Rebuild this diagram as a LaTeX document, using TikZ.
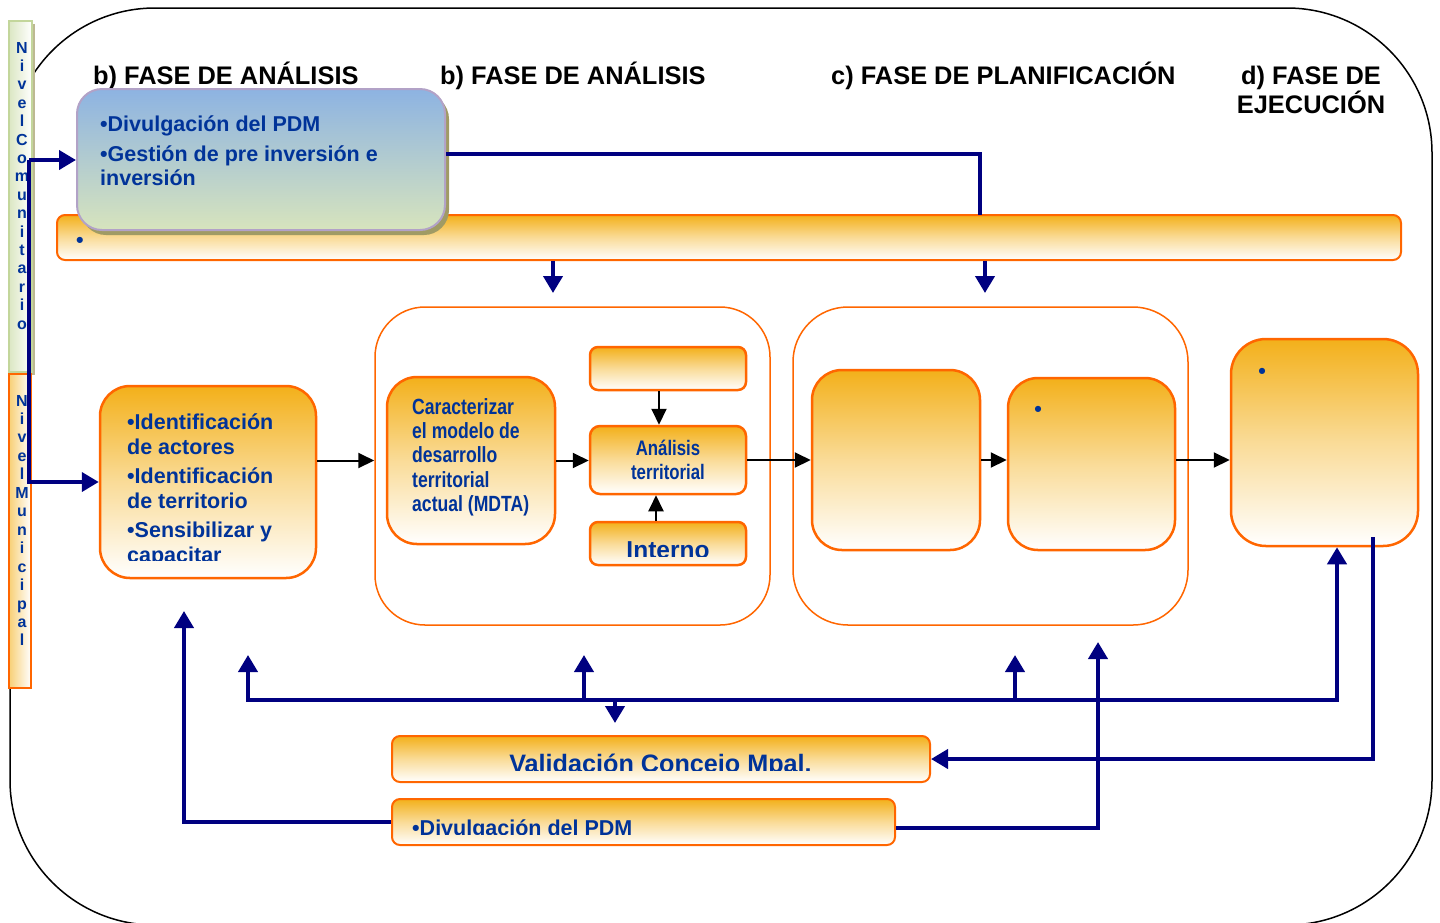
\documentclass[tikz,border=0pt]{standalone}
\usepackage{fontspec}
\setmainfont{Liberation Sans}
\newfontfamily\estrecha[FakeStretch=0.8]{Liberation Sans}
\usetikzlibrary{arrows.meta,shadows}
\definecolor{pdmblue}{RGB}{0,51,153}
\definecolor{pdmnavy}{RGB}{0,0,128}
\definecolor{pdmorange}{RGB}{255,102,0}
\definecolor{pdmgold}{RGB}{243,176,26}
\definecolor{pdmsky}{RGB}{141,179,226}
\definecolor{pdmsage}{RGB}{215,228,189}
\definecolor{pdmlilac}{RGB}{178,162,199}
\definecolor{pdmolive}{RGB}{160,155,100}
\definecolor{pdmgreen}{RGB}{195,214,155}

\begin{document}
\begin{tikzpicture}[x=1pt,y=-1pt]
        \tikzstyle{caja}=[draw=pdmorange,line width=2.5pt,top color=pdmgold,bottom color=white,middle color=pdmgold!45,inner sep=0pt]
        \tikzstyle{marco}=[draw=pdmorange,line width=1.5pt,fill=white,inner sep=0pt]
        \tikzstyle{txt}=[text=pdmblue,inner sep=0pt,font=\bfseries\fontsize{21.5}{24.5}\selectfont]
        \tikzstyle{fase}=[text=black,inner sep=0pt,font=\bfseries\fontsize{25.4}{29}\selectfont]
        \tikzstyle{letra}=[text=pdmblue,inner sep=0pt,font=\bfseries\fontsize{16}{16}\selectfont]
        \tikzstyle{flecha}=[draw=black,line width=2pt,>={Triangle[length=16pt,width=15pt]},->]
        \tikzstyle{nexo}=[draw=pdmnavy,line width=4pt,>={Triangle[length=17pt,width=19pt]},->]

        \useasboundingbox (0,0) rectangle (1440,922);

        % marco general
        \draw[line width=1.5pt,rounded corners=145pt] (10,8) rectangle (1432,925);

        % niveles
        \node[draw=pdmgreen,line width=2pt,left color=pdmgreen!60!white,right color=white,minimum width=23pt,minimum height=351pt,
              drop shadow={shadow xshift=3pt,shadow yshift=-3pt,fill=pdmolive!70,opacity=1}] (comunitario) at (20.5,196.5) {};
        \node[draw=pdmorange,line width=2pt,left color=pdmgold!60!white,right color=white,minimum width=22pt,minimum height=314pt] (municipal) at (20,531) {};
        \foreach \letra [count=\i from 0] in {N,i,v,e,l,C,o,m,u,n,i,t,a,r,i,o}
            \node[letra,anchor=base] (com\i) at (22,53+18.4*\i) {\letra};
        \foreach \letra [count=\i from 0] in {N,i,v,e,l,M,u,n,i,c,i,p,a,l}
            \node[letra,anchor=base] (mun\i) at (22,406+18.46*\i) {\letra};

        % fases
        \node[fase,anchor=base west] (faseA) at (93,84) {b) FASE DE ANÁLISIS};
        \node[fase,anchor=base west] (faseB) at (440,84) {b) FASE DE ANÁLISIS};
        \node[fase,anchor=base west] (faseC) at (831,84) {c) FASE DE PLANIFICACIÓN};
        \node[fase,anchor=north,align=center] (faseD) at (1311,65.5) {d) FASE DE\\EJECUCIÓN};

        % franja y gestion
        \node[caja,rounded corners=8pt,line width=2pt,minimum width=1344pt,minimum height=45pt] (franja) at (729,237.5) {};
        \node[txt] (franja-punto) at (80,242) {•};
        \node[draw=pdmlilac,line width=2pt,rounded corners=25pt,top color=pdmsky,bottom color=pdmsage,minimum width=368pt,minimum height=141pt,
              drop shadow={shadow xshift=4pt,shadow yshift=-5pt,fill=pdmolive,opacity=1}] (gestion) at (261,159.5) {};
        \node[txt,anchor=north west,align=left] (gestion-txt) at (100,115.5) {•Divulgación del PDM\\[5.5pt]•Gestión de pre inversión e\\inversión};

        % identificacion
        \node[caja,rounded corners=30pt,minimum width=216pt,minimum height=192pt] (ident) at (208,482) {};
        \begin{scope}
            \clip (100,380) rectangle (316,560);
            \node[txt,anchor=north west,align=left] (ident-txt) at (127,414) {•Identificación\\de actores\\[5pt]•Identificación\\de territorio\\[5pt]•Sensibilizar y\\capacitar};
        \end{scope}

        % analisis
        \node[marco,rounded corners=50pt,minimum width=395pt,minimum height=318pt] (analisis) at (572.5,466) {};
        \node[caja,rounded corners=30pt,minimum width=168pt,minimum height=167pt] (mdta) at (471,460.5) {};
        \node[txt,font=\estrecha\bfseries\fontsize{22}{24.3}\selectfont,anchor=north west,align=left] (mdta-txt) at (412,398)
            {Caracterizar\\el modelo de\\desarrollo\\territorial\\actual (MDTA)};
        \node[caja,rounded corners=8pt,minimum width=156pt,minimum height=43pt] (vacio) at (668,368.5) {};
        \node[caja,rounded corners=10pt,minimum width=156pt,minimum height=68pt,
              txt,font=\estrecha\bfseries\fontsize{21}{24}\selectfont,align=center] (territorial) at (668,460) {Análisis\\territorial};
        \node[caja,rounded corners=8pt,minimum width=156pt,minimum height=43pt] (interno) at (668,543.5) {};
        \begin{scope}
            \clip (590,520) rectangle (746,556);
            \node[txt,font=\bfseries\fontsize{24.5}{28}\selectfont,anchor=base] (interno-txt) at (668,558) {Interno};
        \end{scope}

        % planificacion
        \node[marco,rounded corners=55pt,minimum width=395pt,minimum height=318pt] (plan) at (990.5,466) {};
        \node[caja,rounded corners=30pt,minimum width=168pt,minimum height=180pt] (planA) at (896,460) {};
        \node[caja,rounded corners=30pt,minimum width=167pt,minimum height=172pt] (planB) at (1091.5,464) {};
        \node[txt] (planB-punto) at (1038,411) {•};

        % ejecucion
        \node[caja,rounded corners=35pt,minimum width=187pt,minimum height=207pt] (ejec) at (1324.5,442.5) {};
        \node[txt] (ejec-punto) at (1262,373) {•};

        % validacion y divulgacion
        \node[caja,rounded corners=8pt,line width=2pt,minimum width=538pt,minimum height=46pt] (valida) at (661,759) {};
        \begin{scope}
            \clip (392,730) rectangle (930,770.5);
            \node[txt,font=\bfseries\fontsize{25.2}{28}\selectfont,anchor=base] (valida-txt) at (660.5,772) {Validación Concejo Mpal.};
        \end{scope}
        \node[caja,rounded corners=8pt,line width=2pt,minimum width=503pt,minimum height=46pt] (divulga) at (643.5,822) {};
        \begin{scope}
            \clip (392,795) rectangle (895,834);
            \node[txt,anchor=base west] (divulga-txt) at (412,835) {•Divulgación del PDM};
        \end{scope}

        % flechas negras
        \draw[flecha] (ident.east |- mdta) -- (analisis.west |- mdta);
        \draw[flecha] (mdta.east) -- (territorial.west |- mdta.east);
        \draw[flecha] ([xshift=-9pt]vacio.south) -- ([xshift=-9pt]territorial.north);
        \draw[flecha] ([xshift=-12pt]interno.north) -- ([xshift=-12pt]territorial.south);
        \draw[flecha] (territorial.east) -- (planA.west |- territorial.east);
        \draw[flecha] (planA.east) -- (planB.west |- planA.east);
        \draw[flecha] (planB.east |- planA) -- (ejec.west |- planA);

        % conexiones azules
        \coordinate (tronco) at (29,160);
        \draw[nexo] (tronco) -- (gestion.west |- tronco);
        \draw[nexo] (tronco) |- (ident.west);
        \coordinate (quiebre) at (980,215);
        \draw[nexo,-] ([yshift=6pt]gestion.east) -| (quiebre);
        \coordinate (bajaA) at (553,293);
        \coordinate (bajaB) at (985,293);
        \draw[nexo] (franja.south -| bajaA) -- (bajaA);
        \draw[nexo] (franja.south -| bajaB) -- (bajaB);

        \coordinate (bus) at (0,700);
        \coordinate (subeA) at (248,655);
        \coordinate (subeB) at (584,655);
        \coordinate (subeC) at (1015,655);
        \coordinate (subeD) at (1098,642);
        \coordinate (subeE) at (184,611);
        \draw[nexo,<->] (subeA) |- ([xshift=12.5pt]ejec.south |- bus) -- ([xshift=12.5pt]ejec.south);
        \draw[nexo] (subeB |- bus) -- (subeB);
        \draw[nexo] (subeC |- bus) -- (subeC);
        \draw[nexo,shorten >=12pt] ([xshift=-46pt]valida.north |- bus) -- ([xshift=-46pt]valida.north);
        \draw[nexo] ([xshift=48.5pt,yshift=10pt]ejec.south) |- (valida.east);
        \draw[nexo] ([yshift=-6pt]divulga.east) -| (subeD);
        \draw[nexo] (divulga.west) -| (subeE);
\end{tikzpicture}
\end{document}
